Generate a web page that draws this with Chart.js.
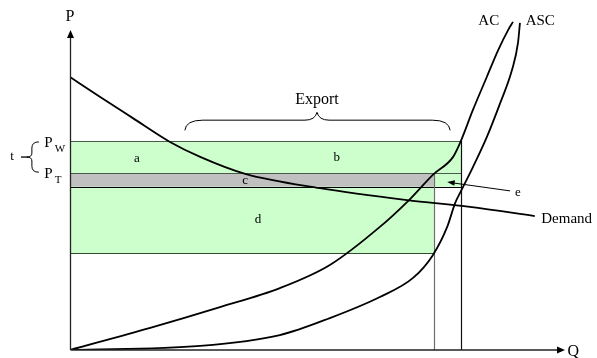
<!DOCTYPE html>
<html>
<head>
<meta charset="utf-8">
<script src="https://cdn.jsdelivr.net/npm/chart.js@4.4.1/dist/chart.umd.min.js"></script>
<style>
body{margin:0;background:#fff}
#wrap{width:597px;height:358px;position:relative}
</style>
</head>
<body>
<div id="wrap"><canvas id="c"></canvas></div>
<script>
// ===== Export subsidy diagram (P vs Q) =====
// curve points, Q and P on 0..100 scales
const demandQ = [0, 6.1, 12.7, 20.2, 26.3, 35.4, 50.5, 68.1, 80.8, 93.9];
const demandP = [80.3, 74.4, 68.2, 61.2, 56.8, 51.8, 47.6, 44.1, 42.1, 39.4];

const acQ = [0, 16.2, 30.3, 42.4, 52.5, 62.6, 68.7, 73.3, 77.4, 78.8, 81.4, 84.2, 86.5, 88.5, 89.5];
const acP = [0, 6.5, 12.6, 18.2, 25.0, 36.2, 44.4, 51.5, 56.8, 60.9, 70.6, 80.3, 88.2, 94.1, 96.5];

const ascQ = [0, 26.3, 42.4, 52.5, 62.6, 69.3, 73.3, 76.2, 77.8, 78.8, 81.4, 84.2, 86.9, 89.3, 90.5, 90.9];
const ascP = [0, 1.2, 4.4, 9.4, 15.6, 21.2, 27.9, 36.2, 43.2, 46.2, 53.8, 62.6, 72.6, 82.4, 90.3, 96.2];

// price levels and quantities
const priceLevels = { pw: 61.5, pt: 52, pc: 48, pd: 28.5 };
const qtyLevels = { q1: 73.5, q2: 79 };

// area labels
const areaLabels = ['a', 'b', 'c', 'd', 'e'];
const areaQ = [13.5, 53.9, 35.4, 38, 90.5];
const areaP = [56.2, 56.5, 49.7, 38.5, 46.2];

const zip = (xs, ys) => xs.map((x, i) => ({ x, y: ys[i] }));
const SERIF = '"Liberation Serif","Times New Roman",serif';

const drawPlugin = {
    id: 'econ',
    beforeDatasetsDraw(chart) {
        const { ctx, scales: { x, y } } = chart;
        const px = v => x.getPixelForValue(v), py = v => y.getPixelForValue(v);
        const { pw, pt, pc, pd } = priceLevels;
        const { q1, q2 } = qtyLevels;
        ctx.save();
        // green (upper), gray band, green (lower)
        ctx.fillStyle = '#ccffcc';
        ctx.fillRect(px(0), py(pw), px(q2) - px(0), py(pc) - py(pw));
        ctx.fillStyle = '#c0c0c0';
        ctx.fillRect(px(0), py(pt), px(q1) - px(0), py(pc) - py(pt));
        ctx.fillStyle = '#ccffcc';
        ctx.fillRect(px(0), py(pc), px(q1) - px(0), py(pd) - py(pc));

        const hline = (p, q, col) => {
            ctx.strokeStyle = col; ctx.lineWidth = 1.2;
            ctx.beginPath(); ctx.moveTo(px(0), Math.round(py(p)) + .5); ctx.lineTo(px(q), Math.round(py(p)) + .5); ctx.stroke();
        };
        hline(pw, q2, '#4a5a4a');
        hline(pt, q2, '#4a5a4a');
        hline(pc, q2, '#000');
        hline(pd, q1, '#2f4a2f');

        const vline = (q, pTop, col) => {
            ctx.strokeStyle = col; ctx.lineWidth = 1.2;
            ctx.beginPath(); ctx.moveTo(Math.round(px(q)) + .5, py(pTop)); ctx.lineTo(Math.round(px(q)) + .5, py(0)); ctx.stroke();
        };
        vline(q1, pt, '#6e6e6e');
        vline(q2, pw, '#111');
        ctx.restore();
    },
    afterDatasetsDraw(chart) {
        const { ctx, scales: { x, y } } = chart;
        const px = v => x.getPixelForValue(v), py = v => y.getPixelForValue(v);
        const { pw, pt } = priceLevels;
        ctx.save();

        // axes with arrow heads
        ctx.strokeStyle = '#222'; ctx.fillStyle = '#000'; ctx.lineWidth = 1.3;
        const ox = px(0) + .5, oy = py(0);
        ctx.beginPath(); ctx.moveTo(ox, oy); ctx.lineTo(ox, py(94.1) + 6); ctx.stroke();
        ctx.beginPath(); ctx.moveTo(ox, py(94.1)); ctx.lineTo(ox - 3.5, py(94.1) + 8); ctx.lineTo(ox + 3.5, py(94.1) + 8); ctx.closePath(); ctx.fill();
        ctx.beginPath(); ctx.moveTo(ox, oy); ctx.lineTo(px(100) - 6, oy); ctx.stroke();
        ctx.beginPath(); ctx.moveTo(px(100), oy); ctx.lineTo(px(100) - 8, oy - 3.5); ctx.lineTo(px(100) - 8, oy + 3.5); ctx.closePath(); ctx.fill();

        // arrow pointing at area e
        const ax0 = px(88.9), ay0 = py(46.8), ax1 = px(76.2), ay1 = py(49.4);
        ctx.lineWidth = 1; ctx.strokeStyle = '#000';
        ctx.beginPath(); ctx.moveTo(ax0, ay0); ctx.lineTo(ax1 + 6, ay1 + 0.9); ctx.stroke();
        const ang = Math.atan2(ay1 - ay0, ax1 - ax0);
        ctx.beginPath();
        ctx.moveTo(ax1, ay1);
        ctx.lineTo(ax1 - 8 * Math.cos(ang - .35), ay1 - 8 * Math.sin(ang - .35));
        ctx.lineTo(ax1 - 8 * Math.cos(ang + .35), ay1 - 8 * Math.sin(ang + .35));
        ctx.closePath(); ctx.fill();

        // Export brace
        const lx = px(23.2), rx = px(76.8), cx = px(49.9);
        const yb = py(67.6), yt = py(69.9), ye = py(64.6);
        ctx.lineWidth = 1;
        ctx.beginPath();
        ctx.moveTo(lx, ye);
        ctx.quadraticCurveTo(lx + 1, yb, lx + 18, yb);
        ctx.lineTo(cx - 12, yb);
        ctx.quadraticCurveTo(cx - 2, yb, cx, yt);
        ctx.quadraticCurveTo(cx + 2, yb, cx + 12, yb);
        ctx.lineTo(rx - 18, yb);
        ctx.quadraticCurveTo(rx - 1, yb, rx, ye);
        ctx.stroke();

        // t brace on the price axis
        const bx = px(-7.7), bTop = py(pw) + 1, bBot = py(pt) - 1, bMid = (bTop + bBot) / 2;
        ctx.beginPath();
        ctx.moveTo(bx + 7, bTop);
        ctx.quadraticCurveTo(bx, bTop, bx, bTop + 6);
        ctx.lineTo(bx, bMid - 4);
        ctx.quadraticCurveTo(bx, bMid, bx - 5, bMid);
        ctx.quadraticCurveTo(bx, bMid, bx, bMid + 4);
        ctx.lineTo(bx, bBot - 6);
        ctx.quadraticCurveTo(bx, bBot, bx + 7, bBot);
        ctx.stroke();
        ctx.lineWidth = 1.3;
        ctx.beginPath(); ctx.moveTo(px(-9.9), bMid); ctx.lineTo(bx - 4, bMid); ctx.stroke();

        // text
        ctx.fillStyle = '#000';
        ctx.textBaseline = 'middle';
        const txt = (s, q, p, size, align = 'center') => {
            ctx.font = `${size}px ${SERIF}`; ctx.textAlign = align;
            ctx.fillText(s, px(q), py(p));
        };
        txt('P', 0, 97.9, 16);
        txt('Q', 100.5, -0.6, 16, 'left');
        txt('AC', 84.6, 96.8, 15);
        txt('ASC', 95, 96.8, 15);
        txt('Export', 49.9, 73.5, 16);
        txt('Demand', 95.2, 38.5, 15, 'left');
        txt('t', -11.7, 56.8, 13);
        txt('P', -5.2, 60.9, 15, 'left');
        txt('W', -3.1, 59.1, 11, 'left');
        txt('P', -5.2, 51.8, 15, 'left');
        txt('T', -3.1, 49.9, 11, 'left');
        areaLabels.forEach((s, i) => txt(s, areaQ[i], areaP[i], 13));
        ctx.restore();
    }
};

const curve = (data) => ({
    data, showLine: true, pointRadius: 0, borderColor: '#000', borderWidth: 1.8,
    cubicInterpolationMode: 'monotone', fill: false
});

new Chart(document.getElementById('c'), {
    type: 'scatter',
    data: {
        datasets: [
            curve(zip(demandQ, demandP)),
            curve(zip(acQ, acP)),
            curve(zip(ascQ, ascP))
        ]
    },
    options: {
        responsive: true,
        maintainAspectRatio: false,
        animation: false,
        layout: { padding: { left: 70, right: 32, top: 10, bottom: 8 } },
        plugins: { legend: { display: false }, tooltip: { enabled: false } },
        scales: {
            x: { type: 'linear', min: 0, max: 100, display: false },
            y: { type: 'linear', min: 0, max: 100, display: false }
        }
    },
    plugins: [drawPlugin]
});
</script>
</body>
</html>
